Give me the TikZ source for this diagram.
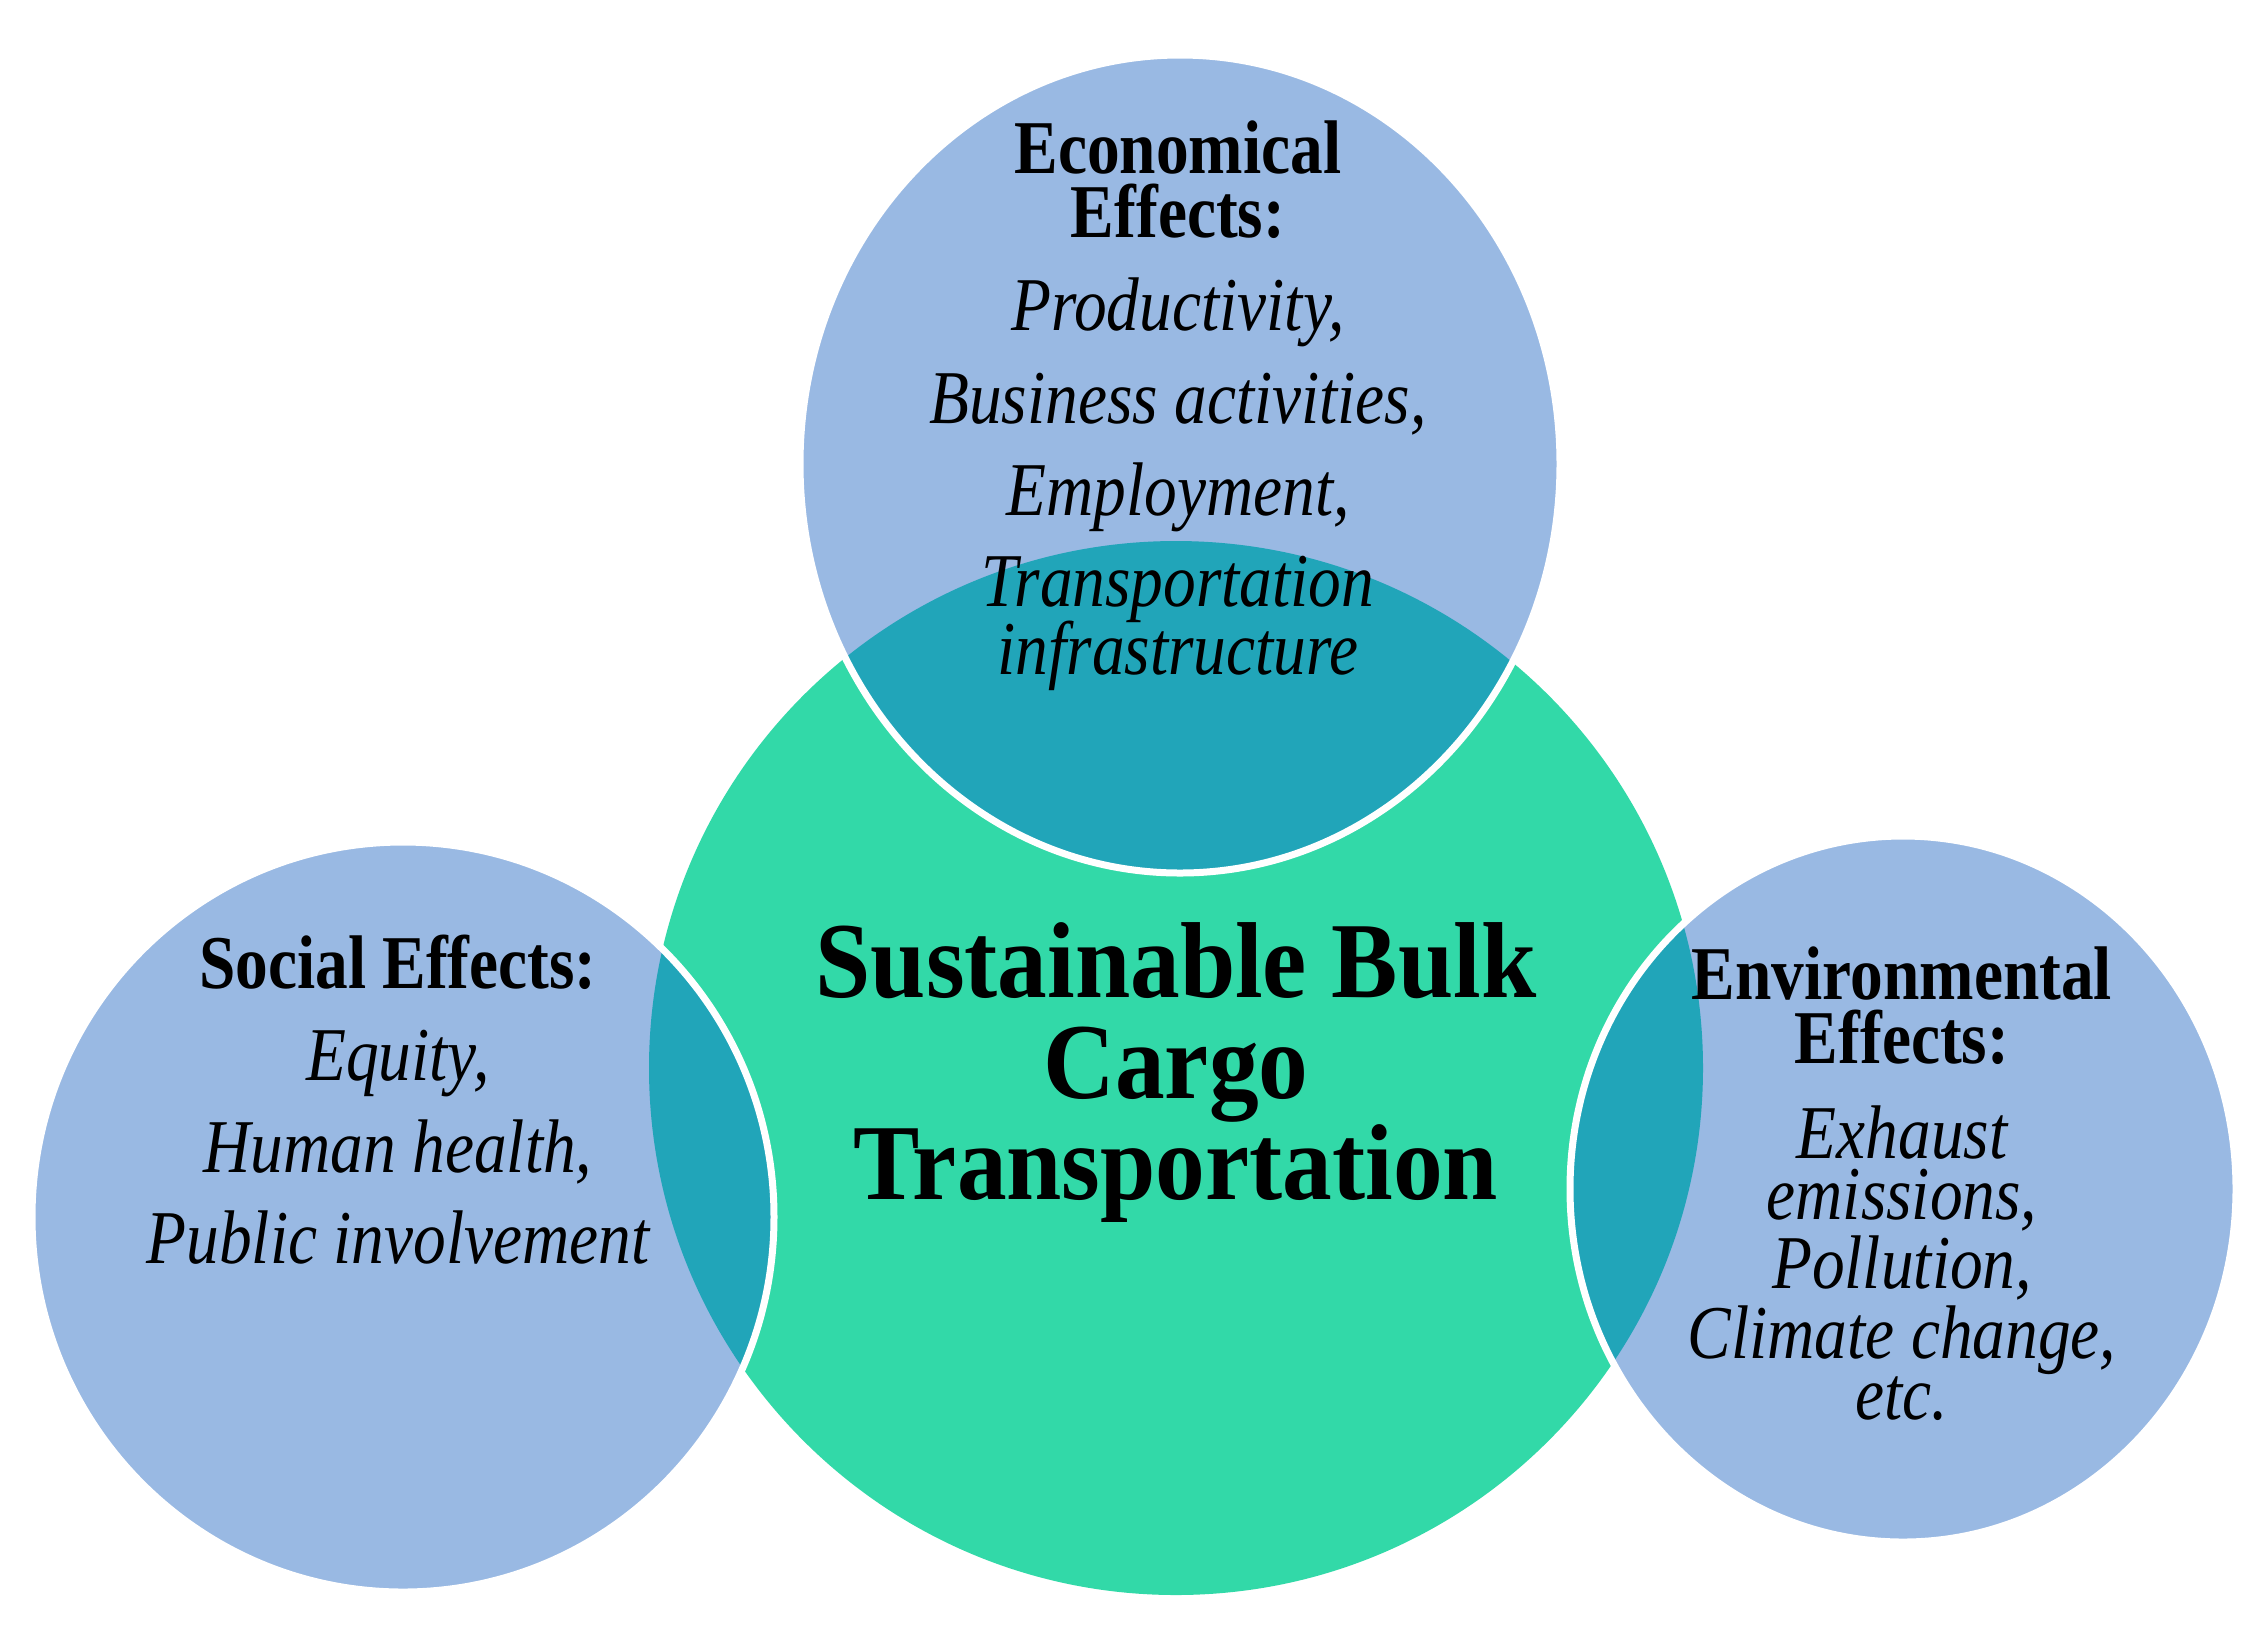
\documentclass[tikz,border=0pt]{standalone}
\usepackage{fontspec}
\setmainfont{Liberation Serif}[FakeStretch=0.86]
\newfontfamily\titlefont{Liberation Serif}[FakeStretch=0.92]
\definecolor{blueC}{RGB}{153,185,227}
\definecolor{greenC}{RGB}{50,217,168}
\definecolor{tealC}{RGB}{33,165,185}
\tikzset{
  head/.style={anchor=base, inner sep=0pt, font=\fontsize{38pt}{40pt}\selectfont\bfseries},
  item/.style={anchor=base, inner sep=0pt, font=\fontsize{38pt}{40pt}\selectfont\itshape},
  bigtitle/.style={anchor=base, inner sep=0pt, font=\titlefont\fontsize{54pt}{56pt}\selectfont\bfseries},
  rim/.style={draw=white, line width=3.5pt}
}
\begin{document}
\begin{tikzpicture}[x=0.5pt,y=-0.5pt]
\useasboundingbox (0,0) rectangle (2259,1630);
\def\green{(1176,1068) circle [radius=263.5pt]}
\def\topE{(1180,464) ellipse [x radius=190pt, y radius=204.5pt]}
\def\leftE{(403,1217) ellipse [x radius=185.5pt, y radius=187.5pt]}
\def\rightE{(1903,1189) ellipse [x radius=166.5pt, y radius=176.5pt]}
% main circle
\fill[greenC] \green;
% outer circles
\fill[blueC] \topE;
\fill[blueC] \leftE;
\fill[blueC] \rightE;
% overlaps
\begin{scope}
  \clip \green;
  \fill[tealC] \topE;
  \fill[tealC] \leftE;
  \fill[tealC] \rightE;
\end{scope}
% white rims
\draw[rim] \topE;
\draw[rim] \leftE;
\draw[rim] \rightE;
% top texts
\node[head] (e1) at (1178,173) {Economical};
\node[head] (e2) at (1178,237) {Effects:};
\node[item] (e3) at (1178,330) {Productivity,};
\node[item] (e4) at (1178,423) {Business activities,};
\node[item] (e5) at (1178,515) {Employment,};
\node[item] (e6) at (1178,606) {Transportation};
\node[item] (e7) at (1178,674) {infrastructure};
% center texts
\node[bigtitle] (c1) at (1176,997) {Sustainable Bulk};
\node[bigtitle] (c2) at (1176,1098) {Cargo};
\node[bigtitle] (c3) at (1176,1199) {Transportation};
% left texts
\node[head] (s1) at (398,988) {Social Effects:};
\node[item] (s2) at (398,1080) {Equity,};
\node[item] (s3) at (398,1172) {Human health,};
\node[item] (s4) at (398,1263) {Public involvement};
% right texts
\node[head] (v1) at (1902,999) {Environmental};
\node[head] (v2) at (1902,1063) {Effects:};
\node[item] (v3) at (1902,1158) {Exhaust};
\node[item] (v4) at (1902,1219) {emissions,};
\node[item] (v5) at (1902,1288) {Pollution,};
\node[item] (v6) at (1902,1358) {Climate change,};
\node[item] (v7) at (1902,1419) {etc.};
\end{tikzpicture}
\end{document}
